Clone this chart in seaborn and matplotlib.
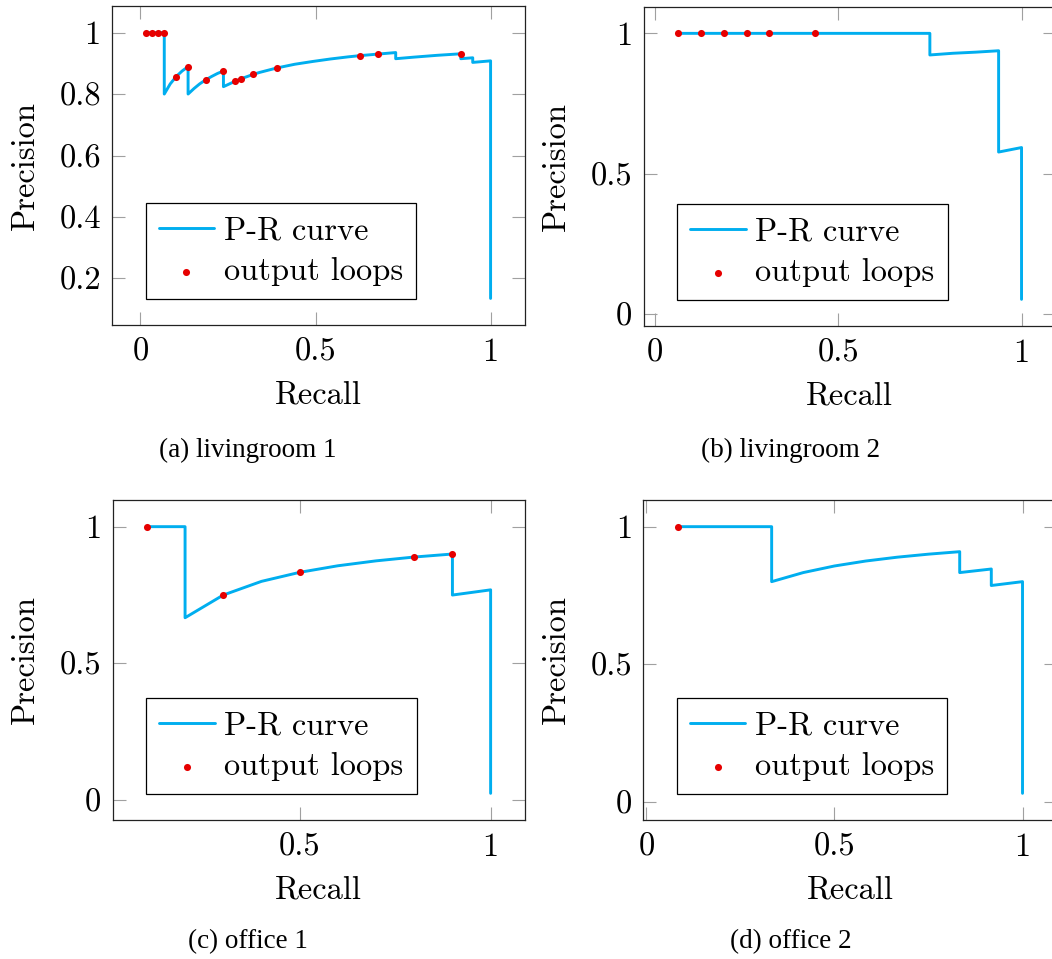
import matplotlib
matplotlib.use("Agg")
import matplotlib.pyplot as plt
import seaborn as sns

sns.set_theme(style="white")
plt.rcParams["font.family"] = ["cmr10", "DejaVu Serif"]
plt.rcParams["axes.formatter.use_mathtext"] = True

# ---------------- data ----------------
titles = ["(a) livingroom 1", "(b) livingroom 2", "(c) office 1", "(d) office 2"]

a_curve_x = [0.017, 0.068, 0.068, 0.085, 0.102, 0.119, 0.136, 0.136, 0.153, 0.169,
             0.186, 0.203, 0.220, 0.237, 0.237, 0.254, 0.271, 0.288, 0.305, 0.322,
             0.339, 0.356, 0.373, 0.390, 0.441, 0.492, 0.542, 0.593, 0.627, 0.678,
             0.729, 0.729, 0.780, 0.847, 0.915, 0.915, 0.949, 0.949, 1.0, 1.0]
a_curve_y = [1.0, 1.0, 0.800, 0.833, 0.857, 0.875, 0.889, 0.800, 0.818, 0.833,
             0.846, 0.857, 0.867, 0.875, 0.824, 0.833, 0.842, 0.850, 0.857, 0.864,
             0.870, 0.875, 0.880, 0.885, 0.897, 0.906, 0.914, 0.921, 0.925, 0.930,
             0.935, 0.915, 0.920, 0.926, 0.931, 0.915, 0.918, 0.903, 0.908, 0.135]
a_loops_x = [0.017, 0.034, 0.051, 0.068, 0.102, 0.136, 0.186, 0.237, 0.271, 0.288,
             0.322, 0.390, 0.627, 0.678, 0.915]
a_loops_y = [1.0, 1.0, 1.0, 1.0, 0.857, 0.889, 0.846, 0.875, 0.842, 0.850,
             0.864, 0.885, 0.925, 0.930, 0.931]

b_curve_x = [0.0625, 0.75, 0.75, 0.8125, 0.875, 0.9375, 0.9375, 1.0, 1.0]
b_curve_y = [1.0, 1.0, 0.923, 0.929, 0.933, 0.938, 0.577, 0.593, 0.052]
b_loops_x = [0.0625, 0.125, 0.1875, 0.25, 0.3125, 0.4375]
b_loops_y = [1.0, 1.0, 1.0, 1.0, 1.0, 1.0]

c_curve_x = [0.1, 0.2, 0.2, 0.3, 0.4, 0.5, 0.6, 0.7, 0.8, 0.9, 0.9, 1.0, 1.0]
c_curve_y = [1.0, 1.0, 0.667, 0.75, 0.8, 0.833, 0.857, 0.875, 0.889, 0.9, 0.75, 0.769, 0.025]
c_loops_x = [0.1, 0.3, 0.5, 0.8, 0.9]
c_loops_y = [1.0, 0.75, 0.833, 0.889, 0.9]

d_curve_x = [0.083, 0.333, 0.333, 0.417, 0.5, 0.583, 0.667, 0.75, 0.833, 0.833,
             0.917, 0.917, 1.0, 1.0]
d_curve_y = [1.0, 1.0, 0.8, 0.833, 0.857, 0.875, 0.889, 0.9, 0.909, 0.833,
             0.846, 0.786, 0.8, 0.03]
d_loops_x = [0.083]
d_loops_y = [1.0]

a_xticks = [0, 0.5, 1]; a_xlabels = ["0", "0.5", "1"]
a_yticks = [0.2, 0.4, 0.6, 0.8, 1]; a_ylabels = ["0.2", "0.4", "0.6", "0.8", "1"]
b_xticks = [0, 0.5, 1]; b_xlabels = ["0", "0.5", "1"]
b_yticks = [0, 0.5, 1]; b_ylabels = ["0", "0.5", "1"]
c_xticks = [0.5, 1]; c_xlabels = ["0.5", "1"]
c_yticks = [0, 0.5, 1]; c_ylabels = ["0", "0.5", "1"]
d_xticks = [0, 0.5, 1]; d_xlabels = ["0", "0.5", "1"]
d_yticks = [0, 0.5, 1]; d_ylabels = ["0", "0.5", "1"]

# ---------------- layout ----------------
W, H = 1052, 959
fig = plt.figure(figsize=(W / 100, H / 100), dpi=100)

LINE_C = "#00AEEF"
DOT_C = "#E60000"
FS = 23.4

panels = [
    dict(rect=(112, 6, 525, 325), cx=a_curve_x, cy=a_curve_y, lx=a_loops_x, ly=a_loops_y,
         xt=a_xticks, xl=a_xlabels, yt=a_yticks, yl=a_ylabels,
         xlim=(-0.0813, 1.0983), ylim=(0.0485, 1.0865), cap=(248, 450)),
    dict(rect=(643.5, 6.7, 1056, 326), cx=b_curve_x, cy=b_curve_y, lx=b_loops_x, ly=b_loops_y,
         xt=b_xticks, xl=b_xlabels, yt=b_yticks, yl=b_ylabels,
         xlim=(-0.031, 1.094), ylim=(-0.043, 1.095), cap=(791, 450)),
    dict(rect=(112.5, 500, 525, 820), cx=c_curve_x, cy=c_curve_y, lx=c_loops_x, ly=c_loops_y,
         xt=c_xticks, xl=c_xlabels, yt=c_yticks, yl=c_ylabels,
         xlim=(0.01, 1.09), ylim=(-0.0725, 1.0975), cap=(248, 942)),
    dict(rect=(643.3, 500, 1057, 820), cx=d_curve_x, cy=d_curve_y, lx=d_loops_x, ly=d_loops_y,
         xt=d_xticks, xl=d_xlabels, yt=d_yticks, yl=d_ylabels,
         xlim=(-0.0083, 1.0917), ylim=(-0.067, 1.097), cap=(791, 942)),
]

for p, title in zip(panels, titles):
    x0, y0, x1, y1 = p["rect"]
    ax = fig.add_axes([x0 / W, 1 - y1 / H, (x1 - x0) / W, (y1 - y0) / H])
    sns.lineplot(x=p["cx"], y=p["cy"], sort=False, estimator=None, ax=ax,
                 color=LINE_C, lw=2.1, label="P-R curve", zorder=2)
    sns.scatterplot(x=p["lx"], y=p["ly"], ax=ax, color=DOT_C, s=26, linewidth=0,
                    label="output loops", zorder=3, clip_on=False)
    ax.set_xlim(*p["xlim"])
    ax.set_ylim(*p["ylim"])
    ax.set_xticks(p["xt"])
    ax.set_xticklabels(p["xl"])
    ax.set_yticks(p["yt"])
    ax.set_yticklabels(p["yl"])
    ax.tick_params(axis="both", which="major", direction="in", length=9.5, width=0.8,
                   color="#a0a0a0", labelsize=FS, labelcolor="black",
                   top=True, right=True, bottom=True, left=True)
    ax.tick_params(axis="x", pad=9)
    ax.tick_params(axis="y", pad=8)
    for s in ax.spines.values():
        s.set_visible(True)
        s.set_color("#222222")
        s.set_linewidth(0.9)
    ax.grid(False)
    ax.set_facecolor("white")
    ax.set_xlabel("Recall", fontsize=FS, color="black")
    ax.set_ylabel("Precision", fontsize=FS, color="black")
    w_px = x1 - x0
    h_px = y1 - y0
    ax.xaxis.set_label_coords(0.5, -70 / h_px)
    ax.xaxis.label.set_verticalalignment("center")
    ax.yaxis.set_label_coords(-87 / w_px, 0.5)
    ax.yaxis.label.set_verticalalignment("center")
    leg = ax.legend(loc="lower left", bbox_to_anchor=(0.082, 0.08), borderaxespad=0,
                    fontsize=FS, frameon=True, fancybox=False, framealpha=1,
                    edgecolor="black", handlelength=1.7, handletextpad=0.3,
                    borderpad=0.4, labelspacing=0.37, markerscale=1.0)
    leg.get_frame().set_linewidth(0.9)
    for t in leg.get_texts():
        t.set_color("black")
    fig.text(p["cap"][0] / W, 1 - p["cap"][1] / H, title, ha="center", va="center",
             fontsize=19.5, family=["Liberation Serif", "DejaVu Serif"], color="black")

fig.savefig("out.png", dpi=100, facecolor="white")
